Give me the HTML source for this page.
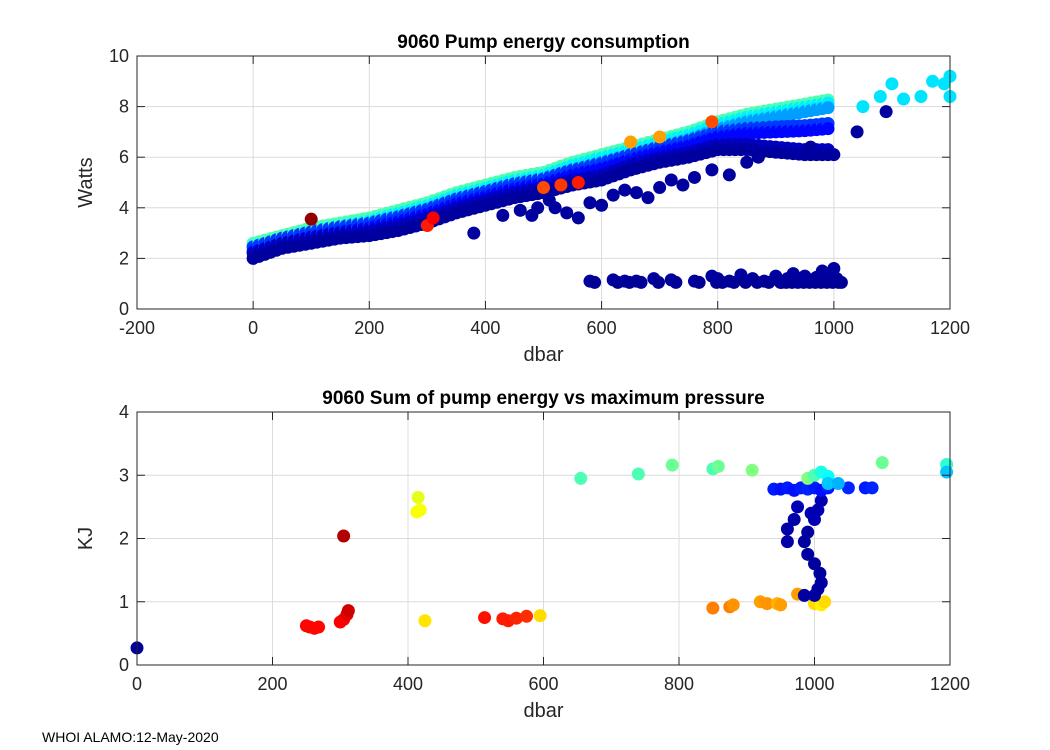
<!DOCTYPE html>
<html><head><meta charset="utf-8"><style>
body{margin:0;background:#fff;}
svg{display:block;font-family:"Liberation Sans",Arial,sans-serif;}
</style></head><body>
<svg id="c" width="1050" height="750" viewBox="0 0 1050 750"></svg>
<script>
// ---- Top plot data ----
const bandP  = [0,50,100,150,200,250,300,350,400,450,500,550,600,650,700,750,800,850,900,950,1000];
const bandLo = [1.9,2.3,2.5,2.7,2.8,3.0,3.3,3.7,4.0,4.3,4.5,4.8,5.0,5.4,5.7,5.9,6.2,6.2,6.1,6.0,6.0];
const bandHi = [2.6,2.9,3.2,3.4,3.6,3.9,4.2,4.6,4.9,5.2,5.4,5.8,6.1,6.4,6.7,7.0,7.4,7.7,7.9,8.1,8.3];
const extraP = [1050,1080,1100,1120,1150,1170,1190,1200,1200];
const extraW = [8.0,8.4,8.9,8.3,8.4,9.0,8.9,9.2,8.4];
const outP = [380,430,460,480,490,510,520,540,560,580,600,620,640,660,680,700,720,740,760,790,820,850,870,900,960,1000,1040,1090];
const outW = [3.0,3.7,3.9,3.7,4.0,4.3,4.0,3.8,3.6,4.2,4.1,4.5,4.7,4.6,4.4,4.8,5.1,4.9,5.2,5.5,5.3,5.8,6.0,6.2,6.4,6.1,7.0,7.8];
const lowP = [580,620,640,660,690,720,760,790,800,820,840,860,880,900,910,920,930,940,950,960,970,980,990,1000,1005];
const lowW = [1.1,1.15,1.1,1.1,1.2,1.15,1.1,1.3,1.2,1.1,1.35,1.2,1.1,1.3,1.05,1.2,1.4,1.1,1.3,1.15,1.25,1.5,1.3,1.6,1.2];
const hotP = [100,300,310,500,530,560,650,700,790];
const hotW = [3.55,3.3,3.6,4.8,4.9,5.0,6.6,6.8,7.4];
const hotC = [0.98,0.85,0.88,0.8,0.82,0.85,0.72,0.72,0.8];
// ---- Bottom plot data ----
const sumP = [0,305,250,255,262,268,300,305,310,312,415,413,418,425,513,540,548,560,575,595,655,740,790,850,858,908,850,875,880,920,930,945,950,975,1000,1010,1015,
  985,1000,1005,1010,1008,1000,990,985,990,1000,1005,1010,960,960,970,975,995,
  940,950,960,970,980,990,1000,1010,1020,1050,1075,1085,990,1000,1010,1020,1020,1035,1100,1195,1195];
const sumKJ = [0.27,2.04,0.62,0.6,0.58,0.6,0.68,0.72,0.8,0.86,2.65,2.42,2.45,0.7,0.75,0.73,0.7,0.74,0.77,0.78,2.95,3.02,3.16,3.1,3.14,3.08,0.9,0.92,0.95,1.0,0.97,0.97,0.95,1.12,0.97,0.95,1.0,
  1.1,1.1,1.2,1.3,1.45,1.6,1.75,1.95,2.1,2.3,2.45,2.6,2.15,1.95,2.3,2.5,2.4,
  2.78,2.78,2.8,2.76,2.8,2.78,2.8,2.76,2.8,2.8,2.8,2.8,2.95,3.0,3.05,2.98,2.87,2.87,3.2,3.17,3.05];
const sumC = [0.02,0.95,0.87,0.87,0.87,0.87,0.88,0.88,0.9,0.92,0.6,0.62,0.62,0.65,0.86,0.85,0.85,0.84,0.83,0.66,0.45,0.45,0.48,0.45,0.48,0.5,0.75,0.75,0.73,0.72,0.73,0.7,0.72,0.72,0.66,0.64,0.66,
  0.03,0.03,0.03,0.03,0.03,0.03,0.03,0.03,0.03,0.05,0.05,0.05,0.04,0.04,0.04,0.05,0.05,
  0.15,0.14,0.15,0.14,0.15,0.16,0.15,0.14,0.15,0.16,0.15,0.16,0.5,0.45,0.4,0.38,0.32,0.3,0.48,0.42,0.32];

const NS='http://www.w3.org/2000/svg';
const svg=document.getElementById('c');
function jet(v){v=Math.max(0,Math.min(1,v));
 const r=Math.max(0,Math.min(1,1.5-Math.abs(4*v-3))),g=Math.max(0,Math.min(1,1.5-Math.abs(4*v-2))),b=Math.max(0,Math.min(1,1.5-Math.abs(4*v-1)));
 return `rgb(${Math.round(r*255)},${Math.round(g*255)},${Math.round(b*255)})`;}
function el(t,a,p){const e=document.createElementNS(NS,t);for(const k in a)e.setAttribute(k,a[k]);(p||svg).appendChild(e);return e;}
function axes(o){
 const g=el('g',{});
 
 
 const sx=v=>o.x0+(v-o.xmin)/(o.xmax-o.xmin)*(o.x1-o.x0);
 const sy=v=>o.y0-(v-o.ymin)/(o.ymax-o.ymin)*(o.y0-o.y1);
 o.xt.forEach(t=>{el('line',{x1:sx(t),x2:sx(t),y1:o.y1,y2:o.y0,stroke:'#dcdcdc','stroke-width':1},g);});
 o.yt.forEach(t=>{el('line',{x1:o.x0,x2:o.x1,y1:sy(t),y2:sy(t),stroke:'#dcdcdc','stroke-width':1},g);});
 const marks=el('g',{},g);
 
 
 o.marks=marks;o.sx=sx;o.sy=sy;o.g=g;return o;}
function frame(o){const g=o.g;
 el('rect',{x:o.x0,y:o.y1,width:o.x1-o.x0,height:o.y0-o.y1,fill:'none',stroke:'#262626','stroke-width':1},g);
 o.xt.forEach(t=>{const x=o.sx(t);
  el('line',{x1:x,x2:x,y1:o.y0,y2:o.y0-8,stroke:'#262626'},g);el('line',{x1:x,x2:x,y1:o.y1,y2:o.y1+8,stroke:'#262626'},g);
  const tx=el('text',{x:x,y:o.y0+25,'text-anchor':'middle','font-size':18,fill:'#262626'},g);tx.textContent=t;
  
  });
 o.yt.forEach(t=>{const y=o.sy(t);
  el('line',{x1:o.x0,x2:o.x0+8,y1:y,y2:y,stroke:'#262626'},g);el('line',{x1:o.x1,x2:o.x1-8,y1:y,y2:y,stroke:'#262626'},g);
  const tx=el('text',{x:o.x0-8,y:y+6,'text-anchor':'end','font-size':18,fill:'#262626'},g);tx.textContent=t;
  
  });
 const ti=el('text',{x:(o.x0+o.x1)/2,y:o.y1-8,'text-anchor':'middle','font-size':19,'font-weight':'bold',fill:'#000'},g);ti.textContent=o.title;
 
 
 const xl=el('text',{x:(o.x0+o.x1)/2,y:o.y0+52,'text-anchor':'middle','font-size':20,fill:'#262626'},g);xl.textContent='dbar';
 
 
 const yl=el('text',{x:0,y:0,'text-anchor':'middle','font-size':20,fill:'#262626',transform:`translate(${o.x0-45},${(o.y0+o.y1)/2}) rotate(-90)`},g);yl.textContent=o.ylab;
 
 }
function dot(o,p,v,c){const d=el('circle',{cx:o.sx(p),cy:o.sy(v),r:6.5,fill:jet(c)},o.marks);
 
 }

const A=axes({name:'pump-energy-plot',x0:137,x1:950,y0:309,y1:56,xmin:-200,xmax:1200,ymin:0,ymax:10,
 xt:[-200,0,200,400,600,800,1000,1200],yt:[0,2,4,6,8,10],title:'9060 Pump energy consumption',ylab:'Watts'});
for(let i=0;i<bandP.length-1;i++){
 for(let s=0;s<5;s++){
  const f=s/5,p=bandP[i]+(bandP[i+1]-bandP[i])*f;
  const lo=bandLo[i]+(bandLo[i+1]-bandLo[i])*f,hi=bandHi[i]+(bandHi[i+1]-bandHi[i])*f;
  dot(A,p,hi,0.45);dot(A,p,hi-0.12,0.36);dot(A,p,hi-0.3,0.28);
  dot(A,p,(hi+lo)/2+0.2,0.18);dot(A,p,(hi+lo)/2,0.13);dot(A,p,lo+0.3,0.06);dot(A,p,lo+0.1,0.03);
 }}
extraP.forEach((p,i)=>dot(A,p,extraW[i],0.35));
outP.forEach((p,i)=>dot(A,p,outW[i],0.03));
lowP.forEach((p,i)=>{dot(A,p,lowW[i],0.03);dot(A,p+8,1.05,0.02);});
hotP.forEach((p,i)=>dot(A,p,hotW[i],hotC[i]));
frame(A);

const B=axes({name:'pump-energy-sum-plot',x0:137,x1:950,y0:665,y1:412,xmin:0,xmax:1200,ymin:0,ymax:4,
 xt:[0,200,400,600,800,1000,1200],yt:[0,1,2,3,4],title:'9060 Sum of pump energy vs maximum pressure',ylab:'KJ'});
sumP.forEach((p,i)=>dot(B,p,sumKJ[i],sumC[i]));
frame(B);

const ft=el('text',{x:42,y:742,'font-size':14,fill:'#000'});ft.textContent='WHOI ALAMO:12-May-2020';


</script>
</body></html>
